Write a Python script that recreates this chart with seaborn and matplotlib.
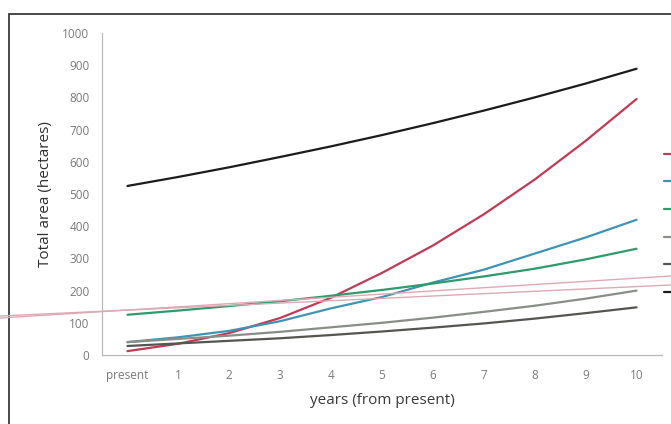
import pandas as pd
import numpy as np
import matplotlib.pyplot as plt
import seaborn as sns
from matplotlib.lines import Line2D
from matplotlib.patches import Rectangle

# Values (hectares)
years = list(range(11))
year_labels = ["present", "1", "2", "3", "4", "5", "6", "7", "8", "9", "10"]

series_names = ["Series 1", "Series 2", "Series 3", "Series 4", "Series 5", "Total"]
series_1 = [12, 35, 68, 115, 178, 255, 340, 437, 545, 665, 795]
series_2 = [40, 55, 75, 105, 145, 180, 225, 265, 315, 365, 420]
series_3 = [125, 138, 152, 167, 184, 202, 222, 244, 268, 297, 330]
series_4 = [40, 50, 60, 72, 86, 100, 116, 134, 153, 175, 200]
series_5 = [28, 36, 44, 52, 62, 73, 85, 98, 113, 130, 148]
total = [525, 553, 583, 615, 648, 683, 720, 759, 800, 843, 889]

colors = ["#c23a55", "#3f93b3", "#2f9a6c", "#8a8e88", "#555552", "#1c1c1c"]

rows = []
for name, vals in zip(series_names, [series_1, series_2, series_3, series_4, series_5, total]):
    for yr, v in zip(years, vals):
        rows.append({"year": yr, "area": v, "series": name})
df = pd.DataFrame(rows)

sns.set_style("white")
plt.rcParams["font.family"] = ["Open Sans", "DejaVu Sans"]

fig = plt.figure(figsize=(6.71, 4.24), dpi=100)
ax = fig.add_axes([102 / 671, 1 - 355 / 424, 560 / 671, 322 / 424])

sns.lineplot(data=df, x="year", y="area", hue="series", palette=colors,
             linewidth=1.6, ax=ax, legend=False)

ax.set_xlim(-0.5, 10.5)
ax.set_ylim(0, 1000)
ax.set_yticks(range(0, 1001, 100))
ax.set_xticks(years)
ax.set_xticklabels(year_labels)
ax.tick_params(axis="both", labelsize=8.5, labelcolor="#7a7a7a", colors="#b0b0b0",
               length=0, pad=6)
ax.tick_params(axis="x", which="major", pad=10)
ax.set_xticks([y + 0.5 for y in [-1] + years], minor=True)
ax.tick_params(axis="x", which="minor", length=4, direction="out", color="#b0b0b0", width=0.8)
ax.tick_params(axis="y", which="major", length=3, direction="out", color="#b0b0b0", width=0.8)

for side in ["top", "right"]:
    ax.spines[side].set_visible(False)
for side in ["left", "bottom"]:
    ax.spines[side].set_color("#b8b8b8")
    ax.spines[side].set_linewidth(0.9)

ax.set_xlabel("years (from present)", fontsize=11, color="#3a3a3a", labelpad=8)
ax.set_ylabel("Total area (hectares)", fontsize=11, color="#2e2e2e", labelpad=7)

# legend: only the line samples show at the right edge (its text lies off the picture)
handles = [Line2D([0], [0], color=c, lw=1.6) for c in colors]
fig.legend(handles, [""] * len(handles), loc="upper left",
           bbox_to_anchor=(664 / 671, 1 - 149 / 424), frameon=False,
           fontsize=7, handlelength=1.5, labelspacing=1.72, borderpad=0,
           borderaxespad=0, handletextpad=0)

# outer frame of the screenshot
fig.add_artist(Rectangle((9 / 671, -0.1), 1.2, 1.1 - 14 / 424,
                         transform=fig.transFigure, fill=False,
                         edgecolor="#3a3a3a", lw=1.3))
# pink double stroke crossing the screenshot
fig.add_artist(Line2D([0, 1], [1 - 318 / 424, 1 - 276 / 424],
                      transform=fig.transFigure, color="#dcaab4", lw=1.0))
fig.add_artist(Line2D([0, 1], [1 - 316 / 424, 1 - 285 / 424],
                      transform=fig.transFigure, color="#dcaab4", lw=1.0))

fig.savefig("out.png", dpi=100)
